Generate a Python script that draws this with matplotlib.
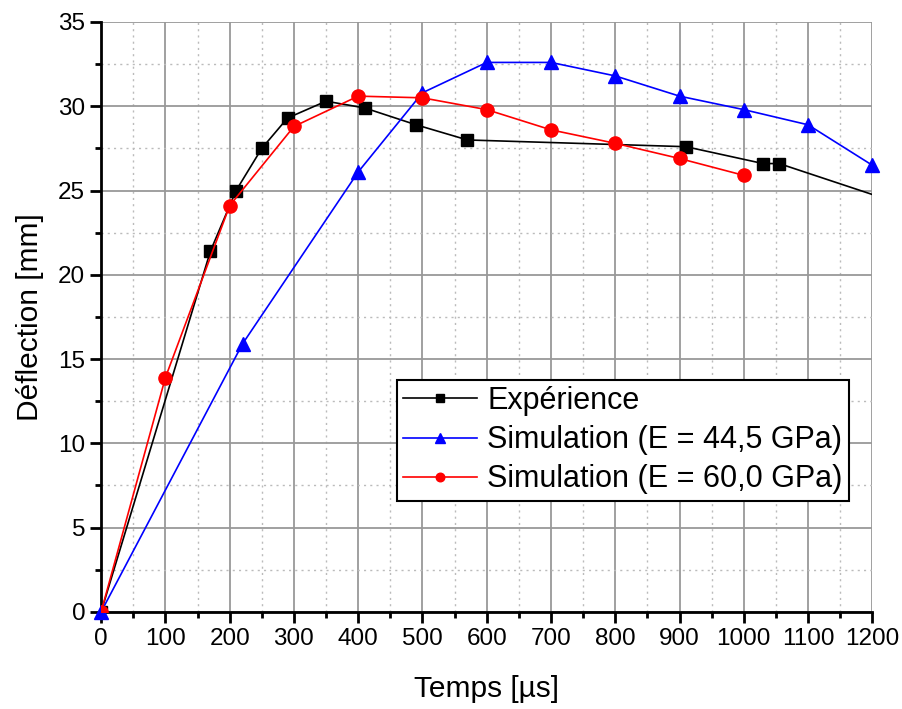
import numpy as np
import matplotlib.pyplot as plt
from matplotlib.ticker import MultipleLocator

plt.rcParams['font.family'] = ['Liberation Sans', 'DejaVu Sans']

# Expérience
t_exp = [0, 170, 210, 250, 290, 350, 410, 490, 570, 910, 1030, 1055, 1300]
d_exp = [0, 21.4, 25.0, 27.5, 29.3, 30.3, 29.9, 28.9, 28.0, 27.6, 26.6, 26.6, 23.5]

# Simulation E = 44,5 GPa
t_s44 = [0, 220, 400, 500, 600, 700, 800, 900, 1000, 1100, 1200]
d_s44 = [0, 15.9, 26.1, 30.8, 32.6, 32.6, 31.8, 30.6, 29.8, 28.9, 26.5]

# Simulation E = 60,0 GPa
t_s60 = [0, 100, 200, 300, 400, 500, 600, 700, 800, 900, 1000]
d_s60 = [0, 13.9, 24.1, 28.8, 30.6, 30.5, 29.8, 28.6, 27.8, 26.9, 25.9]

fig = plt.figure(figsize=(9.03, 7.09), dpi=100)
ax = fig.add_axes([0.112, 0.137, 0.854, 0.832])

ax.plot(t_exp, d_exp, color="black", lw=1.2, marker="s", ms=8.5,
        markevery=list(range(len(t_exp) - 1)), label="Expérience", zorder=3)
ax.plot(t_s44, d_s44, color="blue", lw=1.2, marker="^", ms=10.5,
        label="Simulation (E = 44,5 GPa)", zorder=3, clip_on=False)
ax.plot(t_s60, d_s60, color="red", lw=1.2, marker="o", ms=9.5,
        label="Simulation (E = 60,0 GPa)", zorder=3)

ax.set_xlim(0, 1200)
ax.set_ylim(0, 35)
ax.xaxis.set_major_locator(MultipleLocator(100))
ax.xaxis.set_minor_locator(MultipleLocator(50))
ax.yaxis.set_major_locator(MultipleLocator(5))
ax.yaxis.set_minor_locator(MultipleLocator(2.5))

ax.grid(which="major", color="#999999", lw=1.3, ls="-")
ax.grid(which="minor", color="#bbbbbb", lw=1.0, ls=(0, (1.5, 3)))
ax.set_axisbelow(True)

for s in ["top", "right"]:
    ax.spines[s].set_visible(False)
for s in ["left", "bottom"]:
    ax.spines[s].set_linewidth(2)

ax.tick_params(which="major", direction="out", length=8, width=2, labelsize=17.5)
ax.tick_params(which="minor", direction="out", length=4, width=2)

ax.set_xlabel("Temps [µs]", fontsize=21.5, labelpad=18)
ax.set_ylabel("Déflection [mm]", fontsize=21.5, labelpad=10)

leg = ax.legend(loc="upper left", bbox_to_anchor=(0.384, 0.393), fontsize=22,
                frameon=True, fancybox=False, edgecolor="black", framealpha=1,
                handlelength=2.4, markerscale=0.65, borderpad=0.2,
                labelspacing=0.3, handletextpad=0.35, borderaxespad=0)
leg.get_frame().set_linewidth(1.5)

fig.savefig("out.png", dpi=100)
